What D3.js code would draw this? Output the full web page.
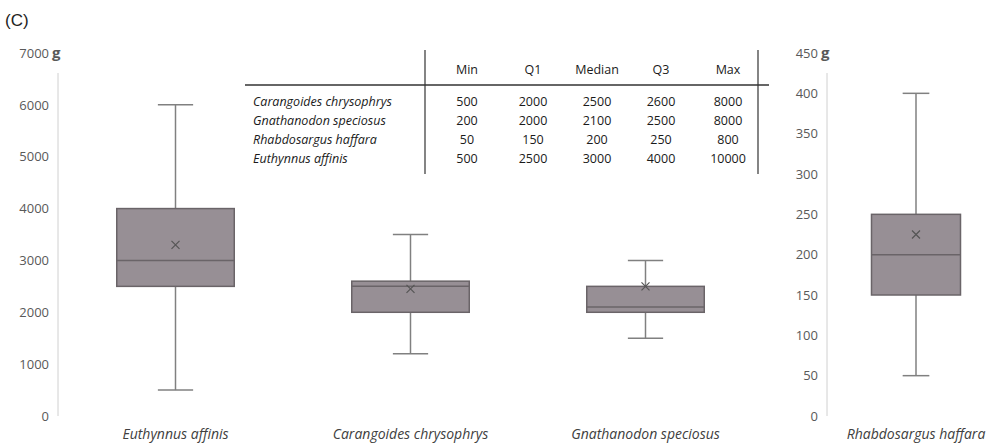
<!DOCTYPE html>
<html><head><meta charset="utf-8">
<script src="https://cdn.jsdelivr.net/npm/d3@7"></script>
<style>
body{margin:0;background:#fff;}
text{font-family:"Open Sans",Lato,sans-serif;}
</style></head>
<body><svg id="c" width="994" height="446"></svg>
<script>
// ---- box plot data ----
const categoriesLeft = ["Euthynnus affinis","Carangoides chrysophrys","Gnathanodon speciosus"];
const categoriesRight = ["Rhabdosargus haffara"];
const boxMin    = [500, 1200, 1500, 50];
const boxQ1     = [2500, 2000, 2000, 150];
const boxMedian = [3000, 2500, 2100, 200];
const boxQ3     = [4000, 2600, 2500, 250];
const boxMax    = [6000, 3500, 3000, 400];
const boxMean   = [3300, 2450, 2500, 225];
const leftTicks  = [0,1000,2000,3000,4000,5000,6000,7000];
const rightTicks = [0,50,100,150,200,250,300,350,400,450];

// ---- table data ----
const tableHeader = ["Min","Q1","Median","Q3","Max"];
const tableSpecies = ["Carangoides chrysophrys","Gnathanodon speciosus","Rhabdosargus haffara","Euthynnus affinis"];
const tableMin    = [500, 200, 50, 500];
const tableQ1     = [2000, 2000, 150, 2500];
const tableMedian = [2500, 2100, 200, 3000];
const tableQ3     = [2600, 2500, 250, 4000];
const tableMax    = [8000, 8000, 800, 10000];

const svg = d3.select("#c");
const yL = d3.scaleLinear([0,7000],[416,53]);
const yR = d3.scaleLinear([0,450],[416,53]);
const xL = d3.scaleBand(categoriesLeft,[58,763]);
const xR = d3.scaleBand(categoriesRight,[827,1005]);

const boxes = categoriesLeft.map((c,i)=>({c,i,x:xL,y:yL}))
  .concat(categoriesRight.map((c,j)=>({c,i:3+j,x:xR,y:yR})));

svg.append("text").attr("x",5).attr("y",26).attr("font-size",17).attr("fill","#222")
  .style("font-family","Arial, 'Liberation Sans', sans-serif").text("(C)");

function drawAxis(scale, ticks, x){
  const g = svg.append("g").attr("transform",`translate(${x},0)`)
    .call(d3.axisLeft(scale).tickValues(ticks).tickSize(0).tickPadding(9).tickFormat(d3.format("d")));
  g.select(".domain").remove();
  g.selectAll("text").attr("font-size",13).attr("fill","#595959").style("font-family","'Open Sans',Lato,sans-serif");
  svg.append("line").attr("x1",x).attr("x2",x).attr("y1",73).attr("y2",scale(0)).attr("stroke","#d0d0d0").attr("stroke-width",1);
  svg.append("text").attr("x",x-6).attr("y",scale(ticks[ticks.length-1])).attr("dy","0.32em")
    .attr("font-size",15).attr("font-weight","bold").attr("fill","#595959").text("g");
}
drawAxis(yL, leftTicks, 58);
drawAxis(yR, rightTicks, 827);

boxes.forEach(b=>{
  const cx = b.x(b.c) + b.x.bandwidth()/2;
  const bw = b.x.bandwidth()*0.5;
  const cw = bw*0.3;
  const g = svg.append("g");
  const wc = "#808080";
  g.append("line").attr("x1",cx).attr("x2",cx).attr("y1",b.y(boxMax[b.i])).attr("y2",b.y(boxQ3[b.i])).attr("stroke",wc).attr("stroke-width",1.5);
  g.append("line").attr("x1",cx).attr("x2",cx).attr("y1",b.y(boxQ1[b.i])).attr("y2",b.y(boxMin[b.i])).attr("stroke",wc).attr("stroke-width",1.5);
  g.append("line").attr("x1",cx-cw/2).attr("x2",cx+cw/2).attr("y1",b.y(boxMax[b.i])).attr("y2",b.y(boxMax[b.i])).attr("stroke",wc).attr("stroke-width",1.5);
  g.append("line").attr("x1",cx-cw/2).attr("x2",cx+cw/2).attr("y1",b.y(boxMin[b.i])).attr("y2",b.y(boxMin[b.i])).attr("stroke",wc).attr("stroke-width",1.5);
  g.append("rect").attr("x",cx-bw/2).attr("width",bw)
    .attr("y",b.y(boxQ3[b.i])).attr("height",b.y(boxQ1[b.i])-b.y(boxQ3[b.i]))
    .attr("fill","#978f95").attr("stroke","#6a6468").attr("stroke-width",1.5);
  g.append("line").attr("x1",cx-bw/2).attr("x2",cx+bw/2).attr("y1",b.y(boxMedian[b.i])).attr("y2",b.y(boxMedian[b.i])).attr("stroke","#6a6468").attr("stroke-width",1.5);
  const my = b.y(boxMean[b.i]), s=4;
  g.append("path").attr("d",`M${cx-s},${my-s}L${cx+s},${my+s}M${cx-s},${my+s}L${cx+s},${my-s}`).attr("stroke","#555").attr("stroke-width",1.2);
  svg.append("text").attr("x",cx).attr("y",439).attr("text-anchor","middle").attr("font-size",14)
    .attr("font-style","italic").attr("fill","#404040").text(b.c);
});

// ---- table ----
const colX = [467,533,597,661,728];
const rowY = [102,121,140,159];
const tg = svg.append("g").attr("font-size",12.5).attr("fill","#1a1a1a");
svg.append("line").attr("x1",425).attr("x2",425).attr("y1",50).attr("y2",174).attr("stroke","#333").attr("stroke-width",1.2);
svg.append("line").attr("x1",758).attr("x2",758).attr("y1",50).attr("y2",174).attr("stroke","#333").attr("stroke-width",1.2);
svg.append("line").attr("x1",245).attr("x2",769).attr("y1",85).attr("y2",85).attr("stroke","#333").attr("stroke-width",1.5);
tableHeader.forEach((h,k)=>{
  tg.append("text").attr("x",colX[k]).attr("y",70).attr("dy","0.32em").attr("text-anchor","middle").text(h);
});
const cols=[tableMin,tableQ1,tableMedian,tableQ3,tableMax];
tableSpecies.forEach((s,r)=>{
  tg.append("text").attr("x",253).attr("y",rowY[r]).attr("dy","0.32em").attr("font-style","italic").text(s);
  cols.forEach((col,k)=>{
    tg.append("text").attr("x",colX[k]).attr("y",rowY[r]).attr("dy","0.32em").attr("text-anchor","middle").text(col[r]);
  });
});
</script></body></html>
